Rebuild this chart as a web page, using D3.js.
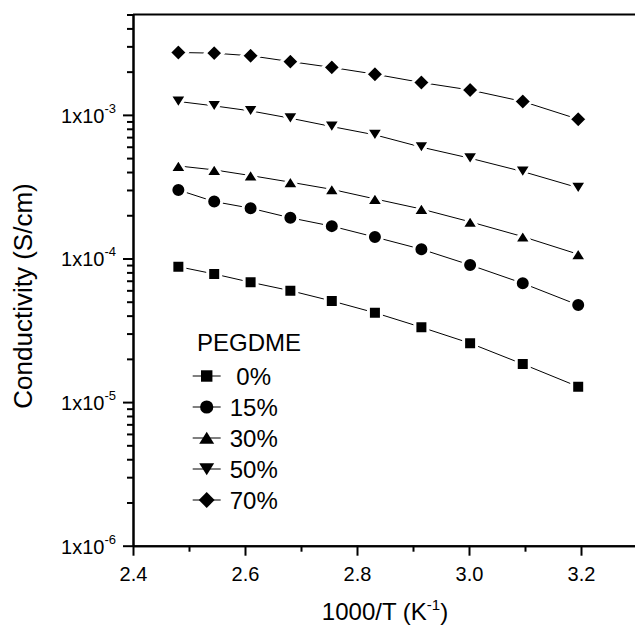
<!DOCTYPE html>
<html>
<head>
<meta charset="utf-8">
<script src="https://cdn.jsdelivr.net/npm/d3@7"></script>
<style>
  body { margin: 0; background: #fff; }
  svg { display: block; font-family: "Liberation Sans", Arial, Helvetica, sans-serif; }
  .axis path, .axis line { stroke: #000; stroke-width: 2; }
  .axis text { fill: #000; font-size: 20px; }
</style>
</head>
<body>
<div id="chart"></div>
<script>
// 1000/T values (K^-1)
var invT = [2.481, 2.545, 2.610, 2.681, 2.755, 2.832, 2.915, 3.002, 3.096, 3.195];

// conductivity (S/cm) per PEGDME content
var peg0  = [8.77e-5, 7.80e-5, 6.83e-5, 5.97e-5, 5.06e-5, 4.19e-5, 3.32e-5, 2.57e-5, 1.84e-5, 1.28e-5];
var peg15 = [3.00e-4, 2.49e-4, 2.24e-4, 1.92e-4, 1.68e-4, 1.41e-4, 1.16e-4, 9.01e-5, 6.72e-5, 4.74e-5];
var peg30 = [4.41e-4, 4.14e-4, 3.78e-4, 3.40e-4, 3.03e-4, 2.60e-4, 2.21e-4, 1.80e-4, 1.42e-4, 1.07e-4];
var peg50 = [1.24e-3, 1.155e-3, 1.066e-3, 9.48e-4, 8.29e-4, 7.26e-4, 5.96e-4, 4.99e-4, 4.03e-4, 3.11e-4];
var peg70 = [2.72e-3, 2.69e-3, 2.58e-3, 2.35e-3, 2.14e-3, 1.92e-3, 1.68e-3, 1.49e-3, 1.24e-3, 9.33e-4];

var seriesNames = ["\u00a00%", "15%", "30%", "50%", "70%"];
var seriesValues = [peg0, peg15, peg30, peg50, peg70];
var seriesShapes = ["square", "circle", "up", "down", "diamond"];

// ticks
var xMajor = [2.4, 2.6, 2.8, 3.0, 3.2];
var xMinor = [2.5, 2.7, 2.9, 3.1];
var yMajor = [1e-6, 1e-5, 1e-4, 1e-3];
var yExponents = ["-6", "-5", "-4", "-3"];
var yMantissas = [2, 3, 4, 5, 6, 7, 8, 9];
var yDecades = [1e-6, 1e-5, 1e-4, 1e-3];

var W = 635, H = 626;
var svg = d3.select("#chart").append("svg")
    .attr("width", W)
    .attr("height", H);

var xScale = d3.scaleLinear().domain([2.4, 3.3]).range([133, 637]);
var yScale = d3.scaleLog().domain([1e-6, 5e-3]).range([545.7, 14.5]);

var yMinor = [];
yDecades.forEach(function(d) {
  yMantissas.forEach(function(m) {
    var v = d * m;
    if (v <= 5.0001e-3) yMinor.push(v);
  });
});

// x axis
svg.append("g")
  .attr("class", "axis")
  .attr("transform", "translate(0," + yScale(1e-6) + ")")
  .call(d3.axisBottom(xScale).tickValues(xMinor).tickSize(6).tickSizeOuter(0).tickFormat(""));

svg.append("g")
  .attr("class", "axis")
  .attr("transform", "translate(0," + yScale(1e-6) + ")")
  .call(d3.axisBottom(xScale).tickValues(xMajor).tickSize(10).tickSizeOuter(0)
        .tickPadding(11).tickFormat(d3.format(".1f")));

// y axis
svg.append("g")
  .attr("class", "axis")
  .attr("transform", "translate(" + xScale(2.4) + ",0)")
  .call(d3.axisLeft(yScale).tickValues(yMinor).tickSize(6).tickSizeOuter(0).tickFormat(""));

svg.append("g")
  .attr("class", "axis")
  .attr("transform", "translate(" + xScale(2.4) + ",0)")
  .call(d3.axisLeft(yScale).tickValues(yMajor).tickSize(10).tickSizeOuter(0).tickFormat(""));

// top frame line
svg.append("line")
  .attr("x1", xScale(2.4)).attr("x2", xScale(3.3))
  .attr("y1", yScale(5e-3)).attr("y2", yScale(5e-3))
  .attr("stroke", "#000").attr("stroke-width", 2);

// y tick labels 1x10^n
var yLab = svg.selectAll(".ylab")
  .data(yMajor)
  .enter().append("text")
  .attr("class", "ylab")
  .attr("x", 116)
  .attr("y", function(d) { return yScale(d) + 8; })
  .attr("text-anchor", "end")
  .attr("font-size", 20);
yLab.append("tspan").text("1x10");
yLab.append("tspan")
  .attr("dy", -10)
  .attr("font-size", 13)
  .text(function(d, i) { return yExponents[i]; });

// axis titles
var xt = svg.append("text")
  .attr("x", 385).attr("y", 620)
  .attr("text-anchor", "middle")
  .attr("font-size", 24);
xt.append("tspan").text("1000/T (K");
xt.append("tspan").attr("dy", -10).attr("font-size", 15).text("-1");
xt.append("tspan").attr("dy", 10).text(")");

svg.append("text")
  .attr("transform", "translate(32,296) rotate(-90)")
  .attr("text-anchor", "middle")
  .attr("font-size", 26)
  .text("Conductivity (S/cm)");

// marker shapes
function shapePath(s) {
  if (s === "square") return "M-6.5,-6.5h13v13h-13z";
  if (s === "circle") return d3.symbol().type(d3.symbolCircle).size(Math.PI * 7.5 * 7.5)();
  if (s === "up") return "M0,-7L8.5,6.5L-8.5,6.5Z";
  if (s === "down") return "M-8.5,-6.5L8.5,-6.5L0,7Z";
  return "M0,-9L9,0L0,9L-9,0Z";
}

var line = d3.line()
  .x(function(d) { return xScale(d[0]); })
  .y(function(d) { return yScale(d[1]); });

seriesValues.forEach(function(vals, si) {
  var pts = invT.map(function(t, i) { return [t, vals[i]]; });
  svg.append("path")
    .attr("d", line(pts))
    .attr("fill", "none")
    .attr("stroke", "#000")
    .attr("stroke-width", 1);
  svg.selectAll(".m" + si)
    .data(pts)
    .enter().append("path")
    .attr("class", "m" + si)
    .attr("d", shapePath(seriesShapes[si]))
    .attr("transform", function(d) { return "translate(" + xScale(d[0]) + "," + yScale(d[1]) + ")"; })
    .attr("fill", "#000")
    .attr("stroke", "#fff")
    .attr("stroke-width", 3);
});

// legend
svg.append("text")
  .attr("x", 197).attr("y", 351)
  .attr("font-size", 24)
  .text("PEGDME");

var leg = svg.selectAll(".leg")
  .data(seriesNames)
  .enter().append("g")
  .attr("class", "leg")
  .attr("transform", function(d, i) { return "translate(206.7," + (376 + i * 31) + ")"; });
leg.append("line")
  .attr("x1", -14).attr("x2", 14)
  .attr("stroke", "#000").attr("stroke-width", 1);
leg.append("path")
  .attr("d", function(d, i) { return shapePath(seriesShapes[i]); })
  .attr("transform", "scale(0.88)")
  .attr("fill", "#000");
leg.append("text")
  .attr("x", 23).attr("y", 8.5)
  .attr("font-size", 24)
  .style("white-space", "pre")
  .text(function(d) { return d; });
</script>
</body>
</html>
